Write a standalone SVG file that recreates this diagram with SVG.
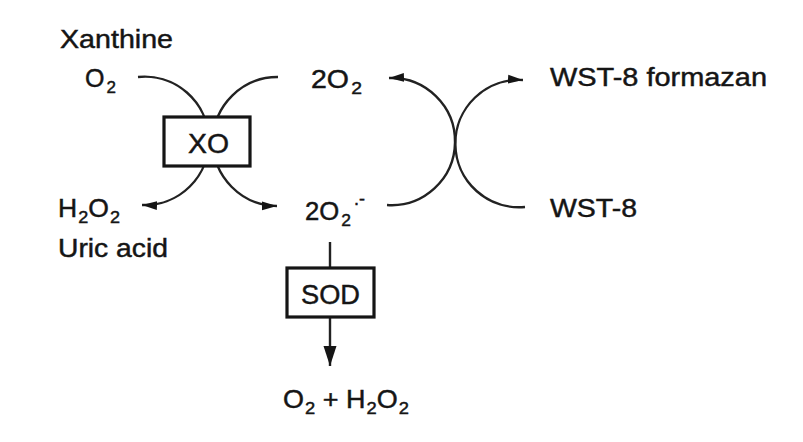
<svg xmlns="http://www.w3.org/2000/svg" width="803" height="442" viewBox="0 0 803 442">
<style>
  text { font-family: "Liberation Sans", Arial, sans-serif; font-size: 25px; fill: #151515; stroke: #151515; stroke-width: 0.45; }
  .lbl { font-size: 28px; }
  .sub { font-size: 17px; }
  .sup { font-size: 18px; }
  .ln { fill: none; stroke: #222; stroke-width: 2.4; }
  .box { fill: #fff; stroke: #151515; stroke-width: 3.2; }
</style>
<defs>
  <marker id="ah" markerUnits="userSpaceOnUse" markerWidth="16" markerHeight="10" refX="15" refY="5" orient="auto">
    <path d="M0,0.6 L15,5 L0,9.4 z" fill="#151515"/>
  </marker>
  <marker id="ahL" markerUnits="userSpaceOnUse" markerWidth="21" markerHeight="14" refX="20" refY="6.5" orient="auto">
    <path d="M0,0 L20,6.5 L0,13 z" fill="#151515"/>
  </marker>
</defs>
<rect width="803" height="442" fill="#fff"/>

<g id="connectors">
  <path class="ln" d="M138,77 A64.2 64.2 0 1 1 142,205" marker-end="url(#ah)"/>
  <path class="ln" d="M278,77 A64.2 64.2 0 1 0 277,206" marker-end="url(#ah)"/>
  <path class="ln" d="M387,205 A63.6 63.6 0 1 0 389,78" marker-end="url(#ah)"/>
  <path class="ln" d="M525,207 A63.7 63.7 0 1 1 523,80" marker-end="url(#ah)"/>
  <path class="ln" d="M330,242 V268"/>
  <path class="ln" d="M330,317 V366" marker-end="url(#ahL)"/>
</g>

<g id="node-xo">
  <rect class="box" x="164" y="117" width="86" height="49"/>
  <text class="lbl" x="188" y="153" textLength="41" lengthAdjust="spacingAndGlyphs">XO</text>
</g>
<g id="node-sod">
  <rect class="box" x="287" y="268" width="87" height="49"/>
  <text class="lbl" x="301" y="304" textLength="59" lengthAdjust="spacingAndGlyphs">SOD</text>
</g>

<g id="node-xanthine"><text x="60" y="48" textLength="113" lengthAdjust="spacingAndGlyphs">Xanthine</text></g>
<g id="node-o2"><text x="85" y="87">O<tspan class="sub" dx="2" dy="6">2</tspan></text></g>
<g id="node-2o2"><text x="311" y="88" textLength="51" lengthAdjust="spacingAndGlyphs">2O<tspan class="sub" dx="2" dy="6">2</tspan></text></g>
<g id="node-formazan"><text x="550" y="86" textLength="217" lengthAdjust="spacingAndGlyphs">WST-8 formazan</text></g>
<g id="node-h2o2"><text x="58" y="217" textLength="62" lengthAdjust="spacingAndGlyphs">H<tspan class="sub" dx="1" dy="6">2</tspan><tspan dy="-6">O</tspan><tspan class="sub" dx="1" dy="6">2</tspan></text></g>
<g id="node-uric"><text x="58" y="257" textLength="110" lengthAdjust="spacingAndGlyphs">Uric acid</text></g>
<g id="node-superoxide">
  <text x="305" y="220" textLength="46" lengthAdjust="spacingAndGlyphs">2O<tspan class="sub" dx="2" dy="6">2</tspan></text>
  <text class="sup" x="354" y="205">.</text>
  <text class="sup" x="359" y="205">-</text>
</g>
<g id="node-wst8"><text x="550" y="217" textLength="87" lengthAdjust="spacingAndGlyphs">WST-8</text></g>
<g id="node-products"><text x="283" y="408" textLength="126" lengthAdjust="spacingAndGlyphs">O<tspan class="sub" dx="1" dy="6">2</tspan><tspan dy="-6"> + H</tspan><tspan class="sub" dx="1" dy="6">2</tspan><tspan dy="-6">O</tspan><tspan class="sub" dx="1" dy="6">2</tspan></text></g>
</svg>
